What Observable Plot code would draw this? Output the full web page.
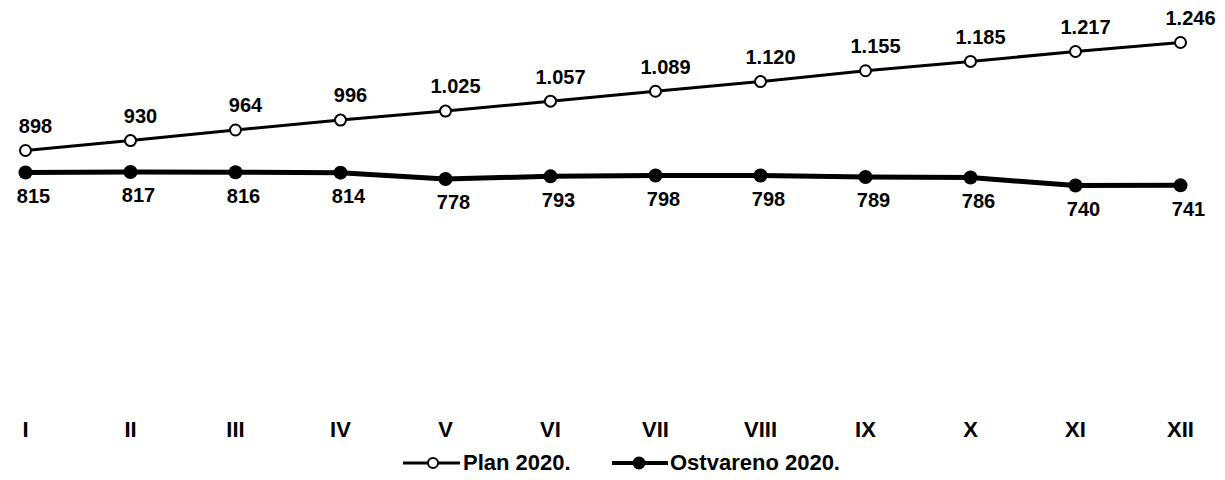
<!DOCTYPE html>
<html><head><meta charset="utf-8">
<script src="https://cdn.jsdelivr.net/npm/d3@7"></script>
<script src="https://cdn.jsdelivr.net/npm/@observablehq/plot@0.6"></script>
<style>
body{margin:0;background:#fff;font-family:"Liberation Sans",Arial,sans-serif;color:#000;}
#legend{position:relative;height:35px;font-size:22px;font-weight:bold;}
#legend .item{position:absolute;top:0;height:35px;display:flex;align-items:center;}
#legend svg{display:block;}
</style></head><body>
<div id="chart"></div>
<div id="legend"></div>
<script>
const months = ["I","II","III","IV","V","VI","VII","VIII","IX","X","XI","XII"];
const plan2020 = [898,930,964,996,1025,1057,1089,1120,1155,1185,1217,1246];
const ostvareno2020 = [815,817,816,814,778,793,798,798,789,786,740,741];
const seriesNames = ["Plan 2020.","Ostvareno 2020."];

const fmt = d3.formatLocale({decimal:",",thousands:".",grouping:[3],currency:["",""]}).format(",");
const planData = months.map((m,i)=>({month:m,value:plan2020[i]}));
const ostData = months.map((m,i)=>({month:m,value:ostvareno2020[i]}));

const chart = Plot.plot({
  width:1225, height:445,
  marginLeft:23, marginRight:44, marginTop:10, marginBottom:24,
  x:{type:"point", domain:months, padding:0, label:null},
  y:{type:"linear", domain:[700,815,898,1246], range:[192,172,150,42], axis:null},
  style:{fontFamily:"Liberation Sans, Arial, sans-serif", color:"#000", background:"#fff"},
  marks:[
    Plot.axisX({tickSize:0, tickPadding:0, fontSize:22, fontWeight:"bold", label:null}),
    Plot.line(ostData,{x:"month",y:"value",stroke:"#000",strokeWidth:5}),
    Plot.dot(ostData,{x:"month",y:"value",r:7,fill:"#000"}),
    Plot.line(planData,{x:"month",y:"value",stroke:"#000",strokeWidth:3}),
    Plot.dot(planData,{x:"month",y:"value",r:5.5,fill:"#fff",stroke:"#000",strokeWidth:2}),
    Plot.text(planData,{x:"month",y:"value",text:d=>fmt(d.value),dy:-24,dx:10,fontSize:20,fontWeight:"bold",fill:"#000"}),
    Plot.text(ostData,{x:"month",y:"value",text:d=>fmt(d.value),dy:24,dx:8,fontSize:20,fontWeight:"bold",fill:"#000"})
  ]
});
document.getElementById("chart").appendChild(chart);

const legend = document.getElementById("legend");
legend.innerHTML = `
<div class="item" style="left:403px"><svg width="60" height="20"><line x1="0" y1="10" x2="57" y2="10" stroke="#000" stroke-width="3"/><circle cx="30" cy="10" r="5" fill="#fff" stroke="#000" stroke-width="2"/></svg><span>${seriesNames[0]}</span></div>
<div class="item" style="left:612px"><svg width="58" height="20"><line x1="0" y1="10" x2="56" y2="10" stroke="#000" stroke-width="4"/><circle cx="27" cy="10" r="6.5" fill="#000"/></svg><span>${seriesNames[1]}</span></div>`;
</script>
</body></html>
